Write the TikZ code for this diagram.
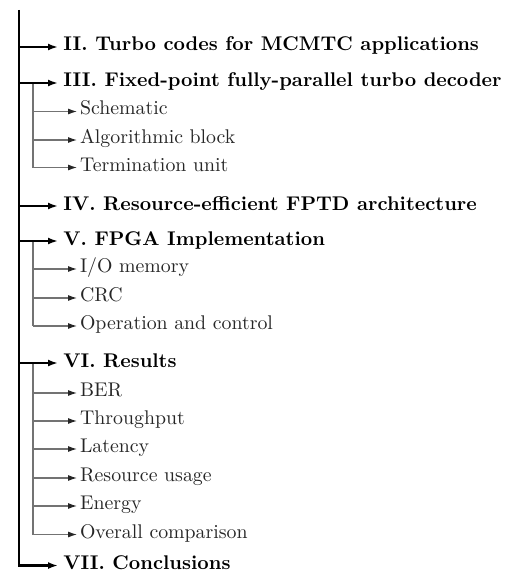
\documentclass[tikz,border=0pt]{standalone}
\usetikzlibrary{arrows.meta}
\begin{document}
\begin{tikzpicture}[x=1pt,y=-1pt,
  mainline/.style={line width=2.2pt, black},
  subline/.style={line width=1.1pt, black!55},
  mainarrow/.style={mainline, -{Latex[length=10pt,width=7pt]}},
  subarrow/.style={subline, -{Latex[length=9pt,width=6pt,black!85]}},
  maintext/.style={anchor=base west, inner xsep=2.8pt, inner ysep=0pt, scale=1.81, font=\fontsize{10.95}{13}\selectfont\bfseries},
  subtext/.style={anchor=base west, inner xsep=1.5pt, inner ysep=0pt, scale=1.81, font=\fontsize{10.95}{13}\selectfont, text=black!85}]
\useasboundingbox (0,0) rectangle (506,575);
\coordinate (top) at (19,10);
\coordinate (sub) at (33,0);
% main items
\node[maintext] (m2) at (58,51) {II. Turbo codes for MCMTC applications};
\node[maintext] (m3) at (58,87) {III. Fixed-point fully-parallel turbo decoder};
\node[maintext] (m4) at (58,210) {IV. Resource-efficient FPTD architecture};
\node[maintext] (m5) at (58,245) {V. FPGA Implementation};
\node[maintext] (m6) at (58,367) {VI. Results};
\node[maintext] (m7) at (58,569.5) {VII. Conclusions};
\foreach \n in {2,...,7}{\coordinate (a\n) at ([yshift=4pt]m\n.base west);}
% sub items
\node[subtext] (s31) at (77,115) {Schematic};
\node[subtext] (s32) at (77,143.5) {Algorithmic block};
\node[subtext] (s33) at (77,171) {Termination unit};
\node[subtext] (s51) at (77,272.5) {I/O memory};
\node[subtext] (s52) at (77,301.5) {CRC};
\node[subtext] (s53) at (77,329.5) {Operation and control};
\node[subtext] (s61) at (77,396.5) {BER};
\node[subtext] (s62) at (77,424.5) {Throughput};
\node[subtext] (s63) at (77,452.5) {Latency};
\node[subtext] (s64) at (77,481.5) {Resource usage};
\node[subtext] (s65) at (77,509.5) {Energy};
\node[subtext] (s66) at (77,538) {Overall comparison};
\foreach \n in {31,32,33,51,52,53,61,62,63,64,65,66}{\coordinate (b\n) at ([yshift=3.5pt]s\n.base west);}
% sub connectors
\draw[subline] (a3 -| sub) -- (b33 -| sub);
\draw[subline] (a5 -| sub) -- (b53 -| sub);
\draw[subline] (a6 -| sub) -- (b66 -| sub);
\foreach \n in {31,32,33,51,52,53,61,62,63,64,65,66}{\draw[subarrow] (b\n -| sub) -- (b\n);}
% main connectors
\draw[mainarrow] (top) |- (a7);
\foreach \n in {2,...,6}{\draw[mainarrow] (a\n -| top) -- (a\n);}
\end{tikzpicture}
\end{document}
